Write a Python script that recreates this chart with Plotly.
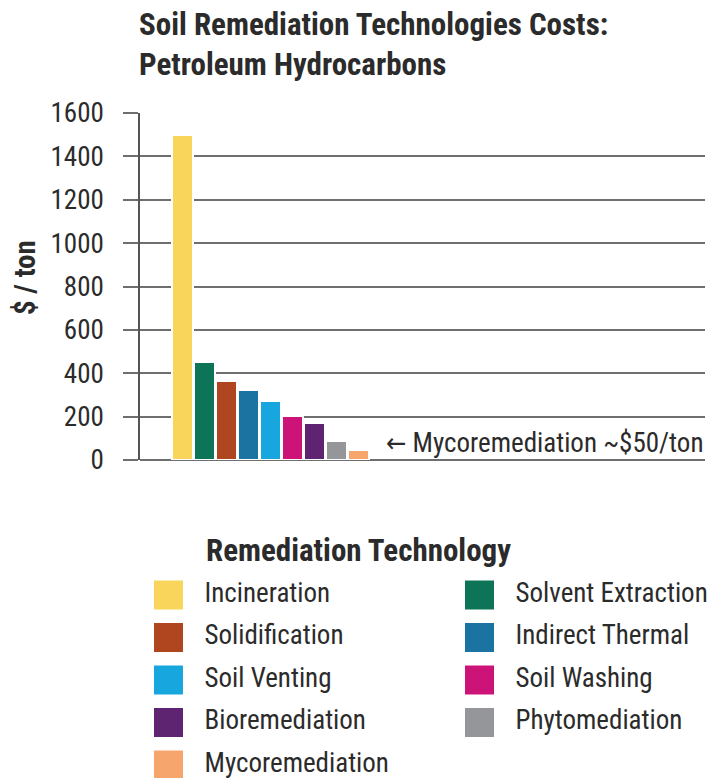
import plotly.graph_objects as go

# ---------------- data ----------------
technologies = ["Incineration", "Solvent Extraction", "Solidification", "Indirect Thermal",
                "Soil Venting", "Soil Washing", "Bioremediation", "Phytomediation",
                "Mycoremediation"]
cost_per_ton = [1500, 450, 365, 325, 270, 205, 172, 88, 45]
bar_colors = ["#F9D55B", "#0E7457", "#B04620", "#1A73A0", "#17A7DE", "#CB1378",
              "#5F2471", "#94969A", "#F6A56D"]
y_ticks = [0, 200, 400, 600, 800, 1000, 1200, 1400, 1600]

title_lines = ["Soil Remediation Technologies Costs:", "Petroleum Hydrocarbons"]
y_title = "$ / ton"
legend_title = "Remediation Technology"
note_text = "\u2190 Mycoremediation ~$50/ton"

FONT = "Liberation Sans Narrow, Arial Narrow, Roboto Condensed, DejaVu Sans Condensed, Roboto, sans-serif"
TXT = "#2b2b2b"
GRID = "#6f6f6f"

W, H = 709, 778
L, R, T, B = 140, 4, 113, 0
PW, PH = W - L - R, H - T - B


def px(xp):
    return (xp - L) / PW


def py(yp):
    return (H - B - yp) / PH


fig = go.Figure()

# main bars
fig.add_trace(go.Bar(
    x=technologies, y=cost_per_ton,
    marker=dict(color=bar_colors, line=dict(color="white", width=2)),
    width=0.91, showlegend=False, hoverinfo="x+y",
    xaxis="x", yaxis="y",
))

# custom legend (as a small scatter panel)
cols = [i % 2 for i in range(len(technologies))]
rows = [-(i // 2) for i in range(len(technologies))]
fig.add_trace(go.Scatter(
    x=cols, y=rows, mode="markers",
    marker=dict(symbol="square", size=29, color=bar_colors, line=dict(width=0)),
    showlegend=False, hoverinfo="skip", xaxis="x2", yaxis="y2", cliponaxis=False,
))
label_dx = 36 / 311
fig.add_trace(go.Scatter(
    x=[c + label_dx for c in cols], y=rows, mode="text", text=technologies,
    textposition="middle right",
    textfont=dict(family=FONT, size=27, color=TXT),
    showlegend=False, hoverinfo="skip", xaxis="x2", yaxis="y2", cliponaxis=False,
))

main_bottom = py(460)

fig.update_layout(
    width=W, height=H,
    margin=dict(l=L, r=R, t=T, b=B, autoexpand=False),
    paper_bgcolor="white", plot_bgcolor="white",
    font=dict(family=FONT, color=TXT),
    bargap=0,
    xaxis=dict(
        domain=[0, 1], anchor="y",
        range=[(L - 182.5) / 22, (L + PW - 182.5) / 22],
        showticklabels=False, showgrid=False, zeroline=False, showline=False, ticks="",
        fixedrange=True, automargin=False,
    ),
    yaxis=dict(
        domain=[main_bottom, 1], anchor="x",
        range=[0, 1600], tickvals=y_ticks, ticktext=[str(v) for v in y_ticks],
        showgrid=True, gridcolor=GRID, gridwidth=2,
        zeroline=True, zerolinecolor=GRID, zerolinewidth=2,
        showline=True, linecolor="#555555", linewidth=1.5,
        ticks="outside", ticklen=15, tickwidth=2, tickcolor=GRID,
        ticklabelstandoff=14,
        tickfont=dict(family=FONT, size=27, color=TXT),
        fixedrange=True, automargin=False,
    ),
    xaxis2=dict(
        domain=[0, 1], anchor="y2",
        range=[(L - 168.5) / 311, (L + PW - 168.5) / 311],
        visible=False, fixedrange=True, automargin=False,
    ),
    yaxis2=dict(
        domain=[0, 0.4], anchor="x2",
        range=[-(H - 595) / 42.5, (595 - (H - 0.4 * PH)) / 42.5],
        visible=False, fixedrange=True, automargin=False,
    ),
    annotations=[
        dict(text="<b>" + "<br>".join(title_lines) + "</b>", xref="paper", yref="paper",
             x=px(137), y=py(44), xanchor="left", yanchor="middle", align="left",
             showarrow=False, font=dict(family=FONT, size=31, color=TXT)),
        dict(text="<b>" + y_title + "</b>", xref="paper", yref="paper",
             x=px(25), y=py(278), xanchor="center", yanchor="middle", textangle=-90,
             showarrow=False, font=dict(family=FONT, size=29, color=TXT)),
        dict(text=note_text, xref="paper", yref="paper",
             x=px(384), y=py(443), xanchor="left", yanchor="middle", showarrow=False,
             font=dict(family=FONT, size=27, color=TXT)),
        dict(text="<b>" + legend_title + "</b>", xref="paper", yref="paper",
             x=px(204), y=py(550), xanchor="left", yanchor="middle", showarrow=False,
             font=dict(family=FONT, size=31, color=TXT)),
    ],
)

fig.write_html("out.html", config={"displayModeBar": False},
               post_script="document.body.style.margin='0px';")
